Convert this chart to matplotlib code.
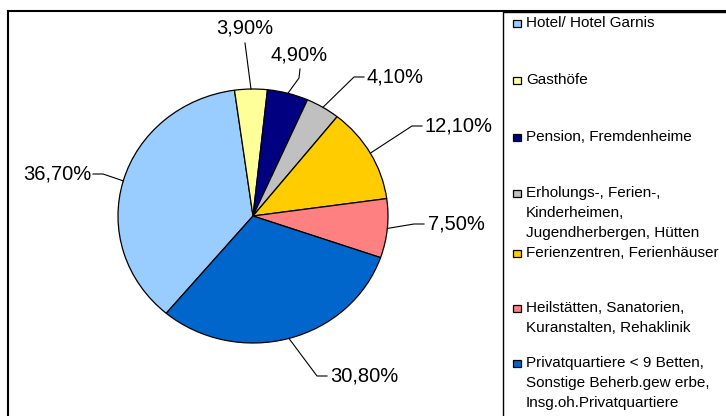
import matplotlib
matplotlib.use('Agg')
import matplotlib.pyplot as plt
from matplotlib.patches import Rectangle
import numpy as np

# ---------------- data ----------------
categories = [
    "Hotel/ Hotel Garnis",
    "Gasthöfe",
    "Pension, Fremdenheime",
    "Erholungs-, Ferien-,\nKinderheimen,\nJugendherbergen, Hütten",
    "Ferienzentren, Ferienhäuser",
    "Heilstätten, Sanatorien,\nKuranstalten, Rehaklinik",
    "Privatquartiere < 9 Betten,\nSonstige Beherb.gew erbe,\nInsg.oh.Privatquartiere",
]
shares = [36.7, 3.9, 4.9, 4.1, 12.1, 7.5, 30.8]
value_labels = ["36,70%", "3,90%", "4,90%", "4,10%", "12,10%", "7,50%", "30,80%"]
colors = ["#99CCFF", "#FFFF99", "#000080", "#C0C0C0", "#FFCC00", "#FF8080", "#0066CC"]

# ---------------- layout (pixels, figure 726x416) ----------------
W, H = 726, 416
CX, CY, RX, RY = 253, 216, 135, 127
# label text centres
label_xy = [(57, 174), (245, 28), (299, 55), (395, 77), (459, 126), (456, 224), (364, 376)]
# leader start (near text) and elbow
leader_start = [(93, 174), (245, 43), (300, 69), (364, 77), (422, 126), (424, 224), (327, 376)]
leader_elbow = [(103, 174), (245, 43), (299, 78), (354, 77), (412, 126), (414, 224), (317, 376)]
legend_first_line_y = [23, 80, 137, 193, 253, 308, 363]

plt.rcParams['font.family'] = ['Liberation Sans', 'DejaVu Sans']

fig = plt.figure(figsize=(W / 100, H / 100), dpi=100)
fig.patch.set_facecolor('white')
ax = fig.add_axes([0, 0, 1, 1])

wedges, _ = ax.pie(shares, colors=colors, startangle=230, counterclock=False,
                   radius=1, center=(0, 0),
                   wedgeprops=dict(edgecolor='black', linewidth=0.9))
ax.set_aspect('auto')
ax.set_xlim(-CX / RX, (W - CX) / RX)
ax.set_ylim(-(H - CY) / RY, CY / RY)
ax.axis('off')


def px(x, y):
    return (x - CX) / RX, (CY - y) / RY


# value labels with leader lines
for w, lab, (tx, ty), s, e in zip(wedges, value_labels, label_xy, leader_start, leader_elbow):
    mid = np.deg2rad((w.theta1 + w.theta2) / 2)
    ex, ey = np.cos(mid), np.sin(mid)
    p0 = px(*s)
    p1 = px(*e)
    ax.plot([p0[0], p1[0], ex], [p0[1], p1[1], ey], color='black', lw=0.8, zorder=3)
    tdx, tdy = px(tx, ty)
    ax.text(tdx, tdy, lab, ha='center', va='center', fontsize=14.5, color='black')

# chart border
fig.add_artist(plt.Line2D([8 / W, 1], [1 - 10.5 / H] * 2, transform=fig.transFigure,
                          color='black', lw=1.5))
fig.add_artist(plt.Line2D([8 / W] * 2, [0, 1 - 10.5 / H], transform=fig.transFigure,
                          color='black', lw=1.5))

# legend box
fig.add_artist(Rectangle((503 / W, -0.05), 1.0, 1 - 12.5 / H + 0.05,
                         transform=fig.transFigure, facecolor='white',
                         edgecolor='black', lw=1.0))

for cat, col, y0 in zip(categories, colors, legend_first_line_y):
    fig.add_artist(Rectangle((513 / W, 1 - (y0 + 4) / H), 8 / W, 7.5 / H,
                             transform=fig.transFigure, facecolor=col,
                             edgecolor='black', lw=0.9))
    for k, line in enumerate(cat.split('\n')):
        fig.text(526 / W, 1 - (y0 + 20 * k) / H, line, ha='left', va='center',
                 fontsize=11, color='black')

fig.savefig('out.png', dpi=100, facecolor='white')
